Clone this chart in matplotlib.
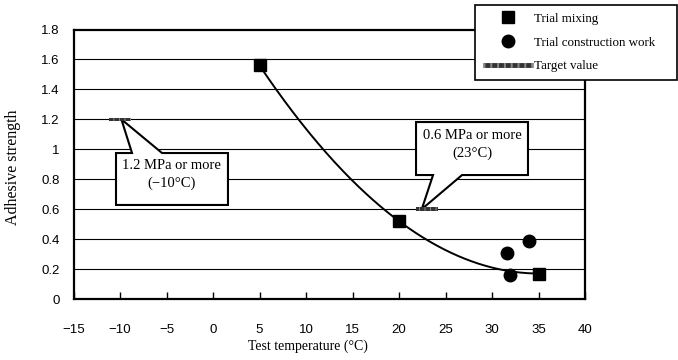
import numpy as np
import matplotlib.pyplot as plt
from matplotlib.patches import Polygon
from matplotlib.lines import Line2D
from matplotlib.legend_handler import HandlerTuple

# data
mix_temp = [5, 20, 35]
mix_strength = [1.56, 0.52, 0.17]
work_temp = [31.6, 31.9, 34.0]
work_strength = [0.31, 0.16, 0.39]
target_temp = [-10, 23]
target_strength = [1.2, 0.6]
target_notes = ['1.2 MPa or more\n(\u221210°C)', '0.6 MPa or more\n(23°C)']
x_ticks = list(range(-15, 41, 5))
y_ticks = [0, 0.2, 0.4, 0.6, 0.8, 1.0, 1.2, 1.4, 1.6, 1.8]
y_labels = ['0', '0.2', '0.4', '0.6', '0.8', '1', '1.2', '1.4', '1.6', '1.8']

serif = 'Liberation Serif'
sans = 'Liberation Sans'

fig = plt.figure(figsize=(6.78, 3.6), dpi=100)
ax = fig.add_axes([73.5 / 678, 1 - 299 / 360, (585 - 73.5) / 678, (299 - 29.5) / 360])

ax.set_xlim(-15, 40)
ax.set_ylim(0, 1.8)
ax.set_xticks(x_ticks)
ax.set_xticklabels(['\u2212' + str(-t) if t < 0 else str(t) for t in x_ticks],
                   fontfamily=sans, fontsize=9.5)
ax.set_yticks(y_ticks)
ax.set_yticklabels(y_labels, fontfamily=sans, fontsize=9.5)
ax.tick_params(axis='x', direction='in', length=5, width=1, pad=18)
ax.tick_params(axis='y', length=0, pad=10)
for t in y_ticks[1:-1]:
    ax.axhline(t, color='black', lw=0.8, zorder=1)
for s in ax.spines.values():
    s.set_linewidth(1.6)
    s.set_zorder(3)

ax.set_xlabel('Test temperature (°C)', fontfamily=serif, fontsize=10)
ax.xaxis.set_label_coords((308 - 73.5) / (585 - 73.5), -41 / 269.5)
ax.set_ylabel('Adhesive strength', fontfamily=serif, fontsize=11.5)
ax.yaxis.set_label_coords(-(73.5 - 21) / 511.5, 0.49)

# 2nd order polynomial trend line through trial mixing points
coef = np.polyfit(mix_temp, mix_strength, 2)
xs = np.linspace(min(mix_temp), max(mix_temp), 200)
ax.plot(xs, np.polyval(coef, xs), color='black', lw=1.4, zorder=4)
ax.plot(mix_temp, mix_strength, 's', color='black', ms=8, zorder=5)
ax.plot(work_temp, work_strength, 'o', color='black', ms=9, zorder=5)

# target value markers (hatched bars)
plt.rcParams['hatch.linewidth'] = 0.7
bar = [(-0.5, -0.08), (0.5, -0.08), (0.5, 0.08), (-0.5, 0.08)]
ax.scatter(target_temp, target_strength, marker=bar, s=255, facecolor='#333333',
           edgecolor='#8a8a8a', hatch='|||', linewidths=0, zorder=7)

# callout boxes: (left, right, bottom, top), pointer base x pair, tip, text centre
callouts = [
    dict(box=(-10.43, 1.61, 0.628, 0.975), base=(-8.71, -5.48), side='top',
         tip=(-9.85, 1.2), text=(-4.45, 0.832)),
    dict(box=(21.83, 33.87, 0.828, 1.182), base=(23.66, 26.78), side='bottom',
         tip=(22.45, 0.6), text=(27.85, 1.032)),
]
for c, note in zip(callouts, target_notes):
    l, r, b, t = c['box']
    b0, b1 = c['base']
    if c['side'] == 'top':
        pts = [(l, b), (r, b), (r, t), (b1, t), c['tip'], (b0, t), (l, t)]
    else:
        pts = [(l, t), (r, t), (r, b), (b1, b), c['tip'], (b0, b), (l, b)]
    ax.add_patch(Polygon(pts, closed=True, facecolor='white', edgecolor='black',
                         lw=1.5, zorder=6, joinstyle='miter'))
    ax.text(*c['text'], note, ha='center', va='center', fontfamily=serif,
            fontsize=10.5, linespacing=1.45, zorder=8)

# legend
h_mix = Line2D([], [], marker='s', color='black', ls='none', ms=8)
h_work = Line2D([], [], marker='o', color='black', ls='none', ms=9)
h_t1 = Line2D([], [], color='#333333', lw=3.5, solid_capstyle='butt')
h_t2 = Line2D([], [], color='#8a8a8a', lw=3.5, dashes=(0.4, 1.0))
leg = fig.legend([h_mix, h_work, (h_t1, h_t2)],
                 ['Trial mixing', 'Trial construction work', 'Target value'],
                 handler_map={tuple: HandlerTuple(ndivide=1, pad=0)},
                 loc='upper left',
                 bbox_to_anchor=(475 / 678, 1 - 80 / 360, 202 / 678, 75 / 360),
                 mode='expand', borderaxespad=0, prop={'family': serif, 'size': 9.4},
                 handlelength=3.85, handletextpad=0.05, labelspacing=0.88,
                 borderpad=0.6, fancybox=False, framealpha=1, edgecolor='black')
leg.get_frame().set_linewidth(1.2)

fig.savefig('out.png', dpi=100)
